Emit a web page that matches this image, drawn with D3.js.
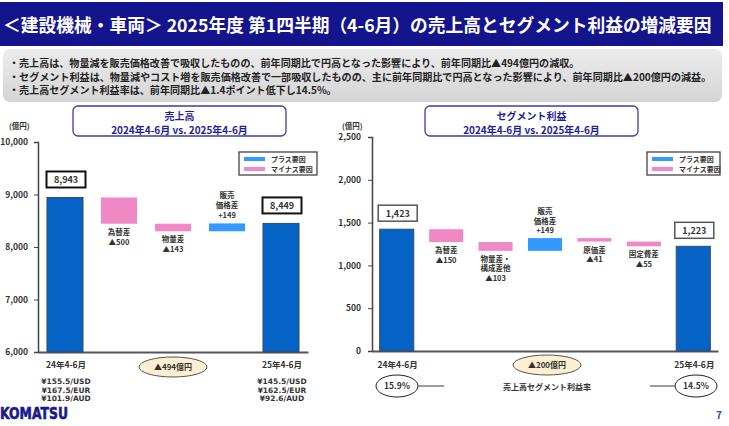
<!DOCTYPE html>
<html>
<head>
<meta charset="utf-8">
<script src="https://cdn.jsdelivr.net/npm/d3@7"></script>
<style>
  body { margin: 0; background: #fff; }
  svg { display: block; font-family: "Noto Sans CJK JP", "Noto Sans", sans-serif; }
</style>
</head>
<body>
<svg width="729" height="426"></svg>
<script>
// Header texts
const titleText = '＜建設機械・車両＞ 2025年度 第1四半期（4-6月）の売上高とセグメント利益の増減要因';
const bulletLines = [
  '・売上高は、物量減を販売価格改善で吸収したものの、前年同期比で円高となった影響により、前年同期比▲494億円の減収。',
  '・セグメント利益は、物量減やコスト増を販売価格改善で一部吸収したものの、主に前年同期比で円高となった影響により、前年同期比▲200億円の減益。',
  '・売上高セグメント利益率は、前年同期比▲1.4ポイント低下し14.5%。'
];
const legendLabels = ['プラス要因', 'マイナス要因'];

// Sales (売上高) waterfall
const salesCategories = ['24年4-6月', '為替差', '物量差', '販売価格差', '25年4-6月'];
const salesValues = [8943, -500, -143, 149, 8449];
const salesNames = [[], ['為替差'], ['物量差'], ['販売', '価格差'], []];
const salesTicks = [6000, 7000, 8000, 9000, 10000];
const salesFx = [['¥155.5/USD', '¥167.5/EUR', '¥101.9/AUD'], ['¥145.5/USD', '¥162.5/EUR', '¥92.6/AUD']];
const salesChange = '▲494億円';

// Segment profit (セグメント利益) waterfall
const profitCategories = ['24年4-6月', '為替差', '物量差・構成差他', '販売価格差', '原価差', '固定費差', '25年4-6月'];
const profitValues = [1423, -150, -103, 149, -41, -55, 1223];
const profitNames = [[], ['為替差'], ['物量差・', '構成差他'], ['販売', '価格差'], ['原価差'], ['固定費差'], []];
const profitTicks = [0, 500, 1000, 1500, 2000, 2500];
const profitRatios = ['15.9%', '14.5%'];
const profitChange = '▲200億円';

const navy = '#14148c';
const totalColor = '#0563c6';
const plusColor = '#3399ff';
const minusColor = '#f088c6';
const textColor = '#333';
const latin = '"DejaVu Sans", sans-serif';

const svg = d3.select('svg');
const defs = svg.append('defs');

// shrink a text's font size so it spans the wanted width
function fitWidth(sel, target) {
  const w = sel.node().getComputedTextLength();
  if (w > 0) sel.attr('font-size', +sel.attr('font-size') * target / w);
}

// Title bar
svg.append('rect').attr('x', 0).attr('y', 2).attr('width', 723).attr('height', 44).attr('fill', navy);
const title = svg.append('text')
  .attr('x', 3).attr('y', 32)
  .attr('fill', '#fff').attr('font-size', 19).attr('font-weight', 'bold')
  .text(titleText);
fitWidth(title, 709);

// Grey summary box
const grey = defs.append('linearGradient').attr('id', 'greyBox').attr('x1', 0).attr('y1', 0).attr('x2', 0).attr('y2', 1);
grey.append('stop').attr('offset', '0%').attr('stop-color', '#ececec');
grey.append('stop').attr('offset', '100%').attr('stop-color', '#d4d4d4');
svg.append('rect').attr('x', 3).attr('y', 49).attr('width', 719).attr('height', 53).attr('rx', 7)
  .attr('fill', 'url(#greyBox)');
const bulletWidths = [571, 703, 328];
svg.append('g').selectAll('text').data(bulletLines).join('text')
  .attr('x', 9).attr('y', (d, i) => 67 + i * 13.5)
  .attr('font-size', 10.5).attr('font-weight', 'bold').attr('fill', '#222')
  .text(d => d)
  .each(function (d, i) { fitWidth(d3.select(this), bulletWidths[i]); });

function signed(v) {
  return v < 0 ? '▲' + Math.abs(v) : '+' + v;
}

function drawWaterfall(opt) {
  const g = svg.append('g');
  const n = opt.values.length;

  const x = d3.scaleBand().domain(opt.categories).range(opt.xRange)
    .paddingInner(opt.pad).paddingOuter(opt.pad / 2);
  const y = d3.scaleLinear().domain(d3.extent(opt.ticks)).range(opt.yRange);

  // Compute the floating segments
  let running = 0;
  const steps = opt.values.map((v, i) => {
    const total = i === 0 || i === n - 1;
    let lo, hi;
    if (total) {
      lo = opt.ticks[0]; hi = v; running = v;
    } else {
      lo = Math.min(running, running + v); hi = Math.max(running, running + v); running += v;
    }
    return { cat: opt.categories[i], v, lo, hi, total, names: opt.names[i] };
  });

  // Subtitle box
  g.append('rect').attr('x', opt.titleX).attr('y', 106).attr('width', 213).attr('height', 30).attr('rx', 5)
    .attr('fill', '#fff').attr('stroke', '#3c3ca0').attr('stroke-width', 1.3);
  g.append('text').attr('x', opt.titleX + 106.5).attr('y', 119.5).attr('text-anchor', 'middle')
    .attr('font-size', 10).attr('font-weight', 'bold').attr('fill', '#1e1e96').text(opt.title);
  g.append('text').attr('x', opt.titleX + 106.5).attr('y', 134).attr('text-anchor', 'middle')
    .attr('font-size', 10).attr('font-weight', 'bold').attr('fill', '#1e1e96')
    .text('2024年4-6月 vs. 2025年4-6月');

  // Unit label
  g.append('text').attr('x', opt.unitX).attr('y', 129).attr('font-size', 7.5).attr('font-weight', 'bold')
    .attr('fill', textColor).text('(億円)');

  // Axes
  const yAxis = g.append('g').attr('transform', `translate(${opt.xRange[0]},0)`)
    .call(d3.axisLeft(y).tickValues(opt.ticks).tickSize(4).tickPadding(opt.tickPad).tickFormat(d3.format(',')));
  yAxis.select('.domain').attr('stroke', '#444').attr('stroke-width', 1.5);
  yAxis.selectAll('.tick line').attr('stroke', '#444');
  yAxis.selectAll('.tick text').attr('font-size', 8.5).attr('font-weight', 'bold').attr('fill', textColor)
    .attr('font-family', '"Noto Sans CJK JP", sans-serif');

  const xAxis = g.append('g').attr('transform', `translate(0,${opt.yRange[0]})`)
    .call(d3.axisBottom(x).tickSize(0).tickSizeOuter(0).tickFormat(''));
  xAxis.select('.domain').attr('stroke', '#555').attr('stroke-width', 2);

  // Bars
  g.append('g').selectAll('rect').data(steps).join('rect')
    .attr('x', d => x(d.cat))
    .attr('y', d => y(d.hi))
    .attr('width', x.bandwidth())
    .attr('height', d => y(d.lo) - y(d.hi))
    .attr('fill', d => d.total ? totalColor : (d.v > 0 ? plusColor : minusColor))
    .attr('stroke', d => d.total ? '#3a4a60' : 'none')
    .attr('stroke-width', 1);

  // Boxed value labels for the totals
  const totals = steps.filter(d => d.total);
  const boxW = 39, boxH = 16;
  totals.forEach(d => {
    const cx = x(d.cat) + x.bandwidth() / 2 + 1;
    const top = y(d.hi) - opt.boxGap - boxH;
    g.append('rect').attr('x', cx - boxW / 2).attr('y', top).attr('width', boxW).attr('height', boxH)
      .attr('fill', '#fff').attr('stroke', opt.boxStroke).attr('stroke-width', opt.boxStrokeW);
    g.append('text').attr('x', cx).attr('y', top + 11.5).attr('text-anchor', 'middle')
      .attr('font-size', 9).attr('font-weight', 'bold').attr('fill', textColor)
      .text(d3.format(',')(d.v));
  });

  // Labels for the change factors
  steps.filter(d => !d.total).forEach(d => {
    const cx = x(d.cat) + x.bandwidth() / 2;
    const lines = d.names.concat([signed(d.v)]);
    const t = g.append('text').attr('text-anchor', 'middle').attr('font-size', 7.5)
      .attr('font-weight', 'bold').attr('fill', textColor);
    const lh = opt.lineH;
    const first = d.v < 0 ? y(d.lo) + 11 : y(d.hi) - 5 - (lines.length - 1) * lh;
    lines.forEach((s, k) => {
      t.append('tspan').attr('x', cx).attr('y', first + k * lh).text(s);
    });
  });

  // Period labels under the totals
  totals.forEach(d => {
    g.append('text').attr('x', x(d.cat) + x.bandwidth() / 2 + 1).attr('y', 368).attr('text-anchor', 'middle')
      .attr('font-size', 8.5).attr('font-weight', 'bold').attr('fill', textColor).text(d.cat);
  });

  // Change bubble
  g.append('ellipse').attr('cx', opt.changeX).attr('cy', opt.changeY).attr('rx', 34).attr('ry', 10)
    .attr('fill', '#fcefd2').attr('stroke', '#555').attr('stroke-width', 1);
  g.append('text').attr('x', opt.changeX).attr('y', opt.changeY + 3).attr('text-anchor', 'middle')
    .attr('font-size', 8).attr('font-weight', 'bold').attr('fill', textColor).text(opt.change);

  // Legend
  const lg = g.append('g').attr('transform', `translate(${opt.legendX},152)`);
  lg.append('rect').attr('width', opt.legendW).attr('height', 23).attr('fill', '#fff')
    .attr('stroke', '#444').attr('stroke-width', 1.3);
  [plusColor, minusColor].forEach((c, i) => {
    lg.append('rect').attr('x', 5).attr('y', 5 + i * 10).attr('width', 21).attr('height', 4).attr('fill', c);
    lg.append('text').attr('x', 32).attr('y', 10 + i * 10).attr('font-size', 7).attr('font-weight', 'bold')
      .attr('fill', textColor).text(legendLabels[i]);
  });

  return { g, x, steps };
}

// Left: sales
const sales = drawWaterfall({
  categories: salesCategories, values: salesValues, names: salesNames, ticks: salesTicks,
  xRange: [38, 308], yRange: [352, 142], pad: 0.333, tickPad: 6,
  title: '売上高', titleX: 73, unitX: 9,
  boxGap: 10, boxStroke: '#111', boxStrokeW: 2, lineH: 10,
  change: salesChange, changeX: 173, changeY: 367,
  legendX: 239, legendW: 78
});
salesFx.forEach((lines, i) => {
  const cat = salesCategories[i === 0 ? 0 : salesCategories.length - 1];
  const cx = sales.x(cat) + sales.x.bandwidth() / 2 + 1;
  sales.g.append('g').selectAll('text').data(lines).join('text')
    .attr('x', cx).attr('y', (d, k) => 384 + k * 8.7).attr('text-anchor', 'middle')
    .attr('font-family', latin).attr('font-size', 7.5).attr('font-weight', 'bold')
    .attr('fill', textColor).text(d => d);
});

// Right: segment profit
const profit = drawWaterfall({
  categories: profitCategories, values: profitValues, names: profitNames, ticks: profitTicks,
  xRange: [372, 718], yRange: [351, 137], pad: 0.31, tickPad: 7,
  title: 'セグメント利益', titleX: 425, unitX: 342,
  boxGap: 8, boxStroke: '#555', boxStrokeW: 1.5, lineH: 9.5,
  change: profitChange, changeX: 547, changeY: 365,
  legendX: 647, legendW: 73
});
// Segment profit ratio ovals
const ratioCx = [397, 696];
profitRatios.forEach((r, i) => {
  profit.g.append('ellipse').attr('cx', ratioCx[i]).attr('cy', 386).attr('rx', 21).attr('ry', 11)
    .attr('fill', '#fff').attr('stroke', '#222').attr('stroke-width', 1);
  profit.g.append('text').attr('x', ratioCx[i]).attr('y', 389).attr('text-anchor', 'middle')
    .attr('font-size', 8.5).attr('font-weight', 'bold').attr('fill', textColor).text(r);
});
profit.g.append('line').attr('x1', 418).attr('x2', 444).attr('y1', 386).attr('y2', 386).attr('stroke', '#666').attr('stroke-width', 1.3);
profit.g.append('line').attr('x1', 650).attr('x2', 675).attr('y1', 386).attr('y2', 386).attr('stroke', '#666').attr('stroke-width', 1.3);
profit.g.append('text').attr('x', 547).attr('y', 390).attr('text-anchor', 'middle')
  .attr('font-size', 8).attr('font-weight', 'bold').attr('fill', textColor).text('売上高セグメント利益率');

// Logo and page number
svg.append('text').attr('x', 0).attr('y', 419).attr('font-family', latin)
  .attr('font-size', 15).attr('font-weight', 'bold').attr('fill', '#1a1a8c')
  .attr('stroke', '#1a1a8c').attr('stroke-width', 0.6)
  .attr('textLength', 68).attr('lengthAdjust', 'spacingAndGlyphs').text('KOMATSU');
svg.append('text').attr('x', 719).attr('y', 419).attr('text-anchor', 'middle')
  .attr('font-size', 10).attr('font-weight', 'bold').attr('fill', '#3b3bb0').text('7');
</script>
</body>
</html>
